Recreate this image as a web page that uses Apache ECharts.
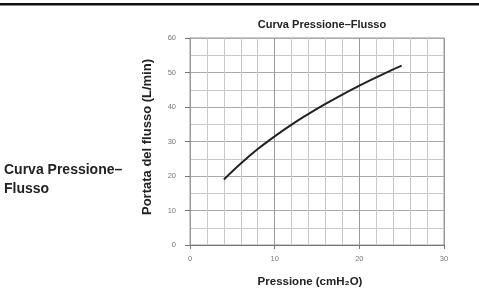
<!DOCTYPE html>
<html>
<head>
<meta charset="utf-8">
<script src="https://cdn.jsdelivr.net/npm/echarts@6/dist/echarts.min.js"></script>
<style>
  html, body { margin: 0; padding: 0; background: #fff; }
  #chart { width: 479px; height: 293px; }
</style>
</head>
<body>
<div id="chart"></div>
<script>
// Pressure (cmH2O) and flow (L/min)
const pressure = [4, 6, 8, 10, 12, 14, 16, 18, 20, 22, 24, 25];
const flow = [19, 23.6, 27.8, 31.5, 34.9, 38.0, 40.9, 43.6, 46.2, 48.6, 50.9, 52];
const xTicks = [0, 10, 20, 30];
const yTicks = [0, 10, 20, 30, 40, 50, 60];

const chart = echarts.init(document.getElementById('chart'));
const font = 'Liberation Sans, Arial, sans-serif';

chart.setOption({
  animation: false,
  textStyle: { fontFamily: font },
  title: {
    text: 'Curva Pressione\u2013Flusso',
    left: 317, top: 14, textAlign: 'center',
    textStyle: { fontSize: 11, fontWeight: 'bold', color: '#222', fontFamily: font }
  },
  graphic: [
    { type: 'rect', shape: { x: 0, y: 3, width: 479, height: 2.5 }, style: { fill: '#111' } },
    {
      type: 'text', left: 4, top: 161,
      style: { text: 'Curva Pressione\u2013\nFlusso', fontSize: 14, fontWeight: 'bold', fill: '#222', lineHeight: 19, fontFamily: font }
    }
  ],
  grid: { left: 190, right: 35, top: 38, bottom: 45, show: true, borderColor: '#999', borderWidth: 1 },
  xAxis: {
    type: 'value', min: 0, max: 30, interval: 10,
    name: 'Pressione (cmH\u2082O)', nameLocation: 'middle', nameGap: 31,
    nameTextStyle: { fontSize: 11.5, fontWeight: 'bold', color: '#222', padding: [0, 14, 0, 0] },
    axisLine: { show: true, lineStyle: { color: '#777' } },
    axisTick: { show: true, length: 4, lineStyle: { color: '#777' } },
    axisLabel: { fontSize: 7.5, color: '#777', margin: 10, customValues: xTicks },
    splitLine: { show: true, lineStyle: { color: '#999', width: 1 } },
    minorTick: { show: false, splitNumber: 5 },
    minorSplitLine: { show: true, lineStyle: { color: '#c8c8c8', width: 1 } }
  },
  yAxis: {
    type: 'value', min: 0, max: 60, interval: 10,
    name: 'Portata del flusso (L/min)', nameLocation: 'middle', nameGap: 36,
    nameTextStyle: { fontSize: 13, fontWeight: 'bold', color: '#222', padding: [0, 0, 0, 9] },
    axisLine: { show: true, lineStyle: { color: '#999' } },
    axisTick: { show: true, length: 5, lineStyle: { color: '#777' } },
    axisLabel: { fontSize: 7.5, color: '#777', margin: 14, customValues: yTicks },
    splitLine: { show: true, lineStyle: { color: '#aaa', width: 1 } },
    minorTick: { show: false, splitNumber: 2 },
    minorSplitLine: { show: true, lineStyle: { color: '#c8c8c8', width: 1 } }
  },
  series: [{
    type: 'line',
    data: pressure.map((p, i) => [p, flow[i]]),
    smooth: 0.3,
    showSymbol: false,
    lineStyle: { color: '#222', width: 2 }
  }]
});
</script>
</body>
</html>
